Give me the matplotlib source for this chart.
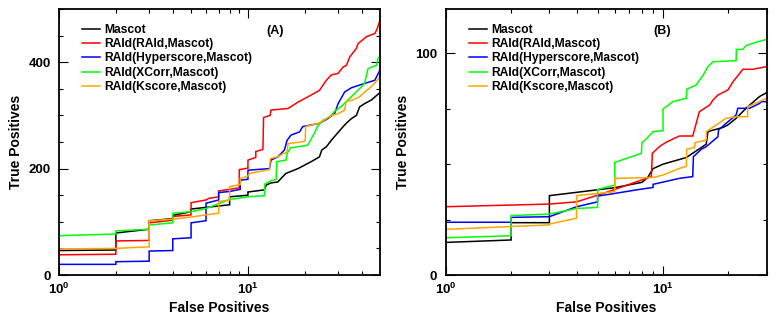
import numpy as np
import matplotlib
matplotlib.use("Agg")
import matplotlib.pyplot as plt
from matplotlib.ticker import FixedLocator, MultipleLocator, NullFormatter

plt.rcParams['font.family'] = ['Liberation Sans', 'DejaVu Sans']
plt.rcParams['font.weight'] = 'bold'
plt.rcParams['mathtext.fontset'] = 'custom'
plt.rcParams['mathtext.rm'] = 'Liberation Sans:bold'
plt.rcParams['mathtext.it'] = 'Liberation Sans:bold'
plt.rcParams['mathtext.bf'] = 'Liberation Sans:bold'

labels = ["Mascot", "RAId(RAId,Mascot)", "RAId(Hyperscore,Mascot)",
          "RAId(XCorr,Mascot)", "RAId(Kscore,Mascot)"]
colors = ["#000000", "#ff0000", "#0000ff", "#00ff00", "#ffa500"]

# ---- Panel A data ----
black_A_x = [1, 2, 2, 3, 3, 4, 4, 5, 5, 8, 8, 10, 10, 12.2, 12.5, 13.2, 14.4, 15.3, 15.9, 18.4, 21.6, 23.9, 24.6, 26, 27.6, 31.2, 33.1, 35.3, 37.5, 39, 41.4, 45, 50]
black_A_y = [46, 47, 79, 86, 102, 106, 112, 119, 124, 132, 147, 150, 156, 160, 169, 173, 175, 185, 191, 200, 213, 222, 235, 241, 253, 275, 285, 294, 300, 316, 322, 329, 343]

red_A_x = [1, 2, 2, 3, 3, 4, 4, 5, 5, 6, 6.2, 7, 7, 8, 9, 9, 10, 10, 11, 11, 12, 12.1, 13.1, 13.25, 16.3, 18.4, 20.8, 23.9, 26, 27.6, 30, 31.9, 33.2, 34.6, 37.5, 38.3, 42.4, 47, 48.3, 50]
red_A_y = [38, 39, 64, 65, 98, 103, 110, 113, 136, 141, 144, 147, 158, 161, 164, 198, 201, 216, 221, 232, 236, 296, 300, 310, 313, 325, 335, 347, 366, 376, 379, 391, 394, 410, 426, 435, 448, 454, 463, 479]

blue_A_x = [1, 2, 2, 3, 3, 4, 4, 5, 5, 6, 6, 7, 7, 8, 9.1, 9.1, 10, 10, 13, 13.25, 14.4, 15.6, 16.1, 16.9, 18.75, 19.5, 23.9, 26.5, 28.8, 30, 32.5, 35.3, 41.4, 46.9, 50]
blue_A_y = [20, 20, 25, 26, 45, 46, 68, 70, 98, 102, 135, 141, 155, 157, 161, 178, 180, 197, 200, 216, 222, 235, 253, 263, 269, 279, 285, 294, 304, 322, 344, 352, 360, 366, 385]

green_A_x = [1, 2, 2, 3, 3, 4, 4, 5, 6, 7, 8, 10, 12.2, 12.3, 13.2, 14.1, 14.2, 15.9, 16.1, 16.8, 20.7, 21.4, 22.5, 23.4, 25, 27, 28.8, 31.2, 33.8, 36.7, 39.9, 41.4, 43.2, 47.8, 48.8, 50]
green_A_y = [74, 77, 83, 86, 94, 98, 116, 119, 125, 134, 142, 147, 149, 171, 177, 180, 213, 216, 228, 239, 244, 253, 267, 280, 291, 297, 308, 317, 329, 341, 354, 360, 388, 394, 407, 411]

orange_A_x = [1, 2, 3, 3, 4, 5, 6, 7, 7, 8, 8, 9.1, 9.1, 10, 10.2, 13, 13.15, 14.4, 15.3, 16.1, 16.3, 19.1, 20.1, 20.2, 23.6, 25, 27.6, 30, 32.5, 33.1, 35.9, 39, 41.4, 45, 50]
orange_A_y = [49, 50, 53, 102, 105, 109, 113, 116, 138, 141, 166, 170, 181, 186, 191, 198, 219, 222, 228, 231, 247, 250, 252, 279, 285, 290, 300, 303, 310, 326, 329, 335, 344, 354, 372]

# ---- Panel B data ----
black_B_x = [1, 2, 2, 3, 3, 6, 8, 8.5, 9, 10, 12.8, 15.8, 16.1, 18.9, 19.9, 21.7, 24.1, 27.8, 30]
black_B_y = [14.7, 15.8, 23.6, 23.6, 35.8, 39.4, 41.8, 44, 48, 50, 53, 59, 64.7, 66.6, 67.7, 70.7, 75.2, 80.5, 82.3]

red_B_x = [1, 3, 4, 5.3, 8, 8.84, 8.93, 9.63, 10, 10.4, 11.3, 11.9, 13.7, 14.7, 16.4, 17.0, 17.9, 19.9, 21.0, 23.3, 25.8, 30]
red_B_y = [30.8, 32, 33, 36.8, 42.9, 44.4, 54.9, 57.9, 59, 60, 61.7, 62.7, 62.7, 73.7, 76.7, 79, 81.2, 83.5, 87.2, 92.8, 92.8, 94]

blue_B_x = [1, 2, 2, 3, 4, 5, 5, 6, 8, 9, 9, 11.9, 13.7, 13.8, 15.0, 15.8, 17.9, 18.0, 19.5, 21.7, 22.1, 25, 27.8, 28.3, 30]
blue_B_y = [23.8, 23.8, 26, 26.3, 30.8, 33, 35.6, 36.8, 38.8, 39.5, 40.9, 43.6, 44.4, 53.4, 56.7, 57.9, 62.4, 65.4, 68.4, 72.2, 75.2, 75.2, 77.4, 78.2, 78.2]

green_B_x = [1, 2, 2, 3, 4, 5, 5, 6, 6, 7.95, 8, 8.24, 9, 10, 10, 11.1, 12.8, 12.85, 14.2, 15.3, 16.1, 17.0, 21.7, 21.75, 23.3, 24.1, 26.4, 30]
green_B_y = [16.8, 17.7, 26.8, 27.5, 30, 30.5, 38.6, 40.6, 50.8, 54.9, 59.7, 60.7, 64.7, 65.1, 74.9, 78.2, 79.7, 83.8, 85.7, 90.2, 94, 96.2, 96.7, 101.8, 101.8, 103.5, 104.8, 106.3]

orange_B_x = [1, 3, 3, 4, 4, 6, 6, 9, 10, 11.9, 12.8, 12.85, 14.0, 14.05, 15.8, 15.85, 19.5, 21.7, 24.5, 24.55, 30]
orange_B_y = [20.6, 22.6, 23, 25.6, 35.8, 37.6, 43.6, 44, 45.1, 48.1, 49, 56.7, 57.5, 59.7, 60.9, 64.7, 70.7, 71.4, 71.4, 75.9, 79.7]

series_A = [(black_A_x, black_A_y), (red_A_x, red_A_y), (blue_A_x, blue_A_y),
            (green_A_x, green_A_y), (orange_A_x, orange_A_y)]
series_B = [(black_B_x, black_B_y), (red_B_x, red_B_y), (blue_B_x, blue_B_y),
            (green_B_x, green_B_y), (orange_B_x, orange_B_y)]

fig = plt.figure(figsize=(7.76, 3.2), dpi=100)
axA = fig.add_axes([59/776, 45/320, 321/776, 266/320])
axB = fig.add_axes([445.7/776, 45/320, 321/776, 266/320])


def style(ax, series, xmax, ymax, ymaj, ymin, tag):
    for (xs, ys), c, lab in zip(series, colors, labels):
        ax.plot(xs, ys, color=c, lw=1.1, label=lab, solid_joinstyle='miter')
    ax.set_xscale('log')
    ax.set_xlim(1, xmax)
    ax.set_ylim(0, ymax)
    ax.xaxis.set_major_locator(FixedLocator([1, 10]))
    ax.set_xticklabels([r'$10^{0}$', r'$10^{1}$'])
    ax.xaxis.set_minor_locator(FixedLocator([2, 3, 4, 5, 6, 7, 8, 9, 20, 30, 40]))
    ax.xaxis.set_minor_formatter(NullFormatter())
    ax.yaxis.set_major_locator(MultipleLocator(ymaj))
    ax.yaxis.set_minor_locator(MultipleLocator(ymin))
    ax.tick_params(which='both', direction='in', top=True, right=True,
                   width=0.8, labelsize=9.5)
    ax.tick_params(which='major', length=6.5)
    ax.tick_params(which='minor', length=3.2)
    ax.tick_params(axis='y', pad=6)
    ax.tick_params(axis='x', pad=5)
    for sp in ax.spines.values():
        sp.set_linewidth(1.3)
    ax.set_xlabel('False Positives', fontsize=10, fontweight='bold', labelpad=3)
    ax.set_ylabel('True Positives', fontsize=10, fontweight='bold', labelpad=4)
    ax.text(0.673, 0.918, tag, transform=ax.transAxes, ha='center', va='center',
            fontsize=9, fontweight='bold')
    ax.legend(loc='upper left', bbox_to_anchor=(0.0717, 0.944), frameon=False,
              handlelength=1.5, handletextpad=0.35, labelspacing=0.19,
              borderpad=0, borderaxespad=0, prop={'size': 8.7, 'weight': 'bold'})


style(axA, series_A, 50, 500, 200, 50, '(A)')
style(axB, series_B, 30, 120, 100, 25, '(B)')

fig.savefig('out.png', dpi=100)
